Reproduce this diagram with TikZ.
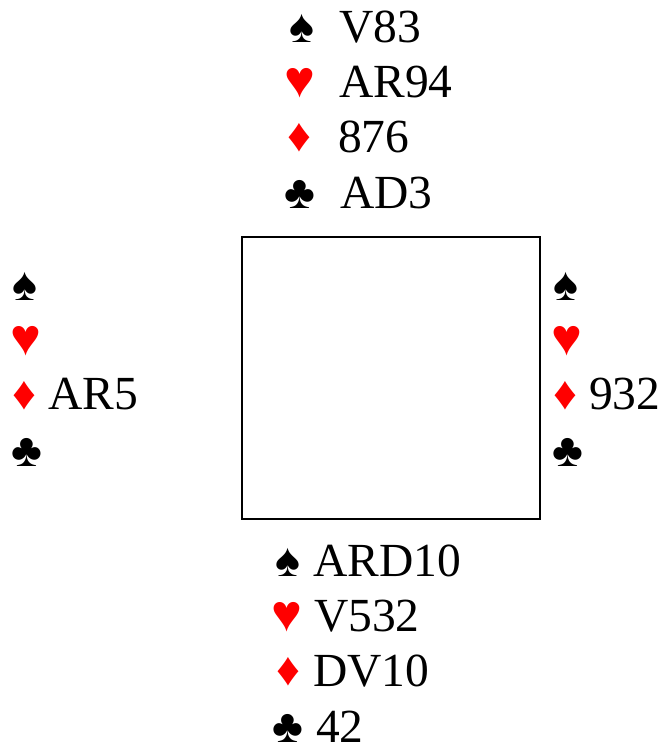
\documentclass[tikz,border=0pt]{standalone}
\usepackage{fontspec}
\setmainfont{Liberation Serif}
\definecolor{cardred}{RGB}{255,0,0}
\newcommand{\spd}{♠}
\newcommand{\hrt}{{\fontsize{52}{52}\selectfont ♥}}
\newcommand{\dmd}{♦}
\newcommand{\clb}{♣}
\tikzset{x=1pt,y=-1pt,
 lbl/.style={font=\fontsize{47.5}{47.5}\selectfont,inner sep=0pt,anchor=base west,text=black},
 blacksuit/.style={font=\fontsize{47}{47}\selectfont,inner sep=0pt,anchor=center,text=black},
 redsuit/.style={font=\fontsize{47}{47}\selectfont,inner sep=0pt,anchor=center,text=cardred},
 table/.style={draw=black,line width=1.4pt,inner sep=0pt,minimum width=298pt,minimum height=282pt}}
\begin{document}
\begin{tikzpicture}
\useasboundingbox (0,0) rectangle (662,745);
\node[table] (tbl) at (391,378) {};
% north
\node[blacksuit] (ns) at (302,28) {\spd};
\node[redsuit] (nh) at (300,83) {\hrt};
\node[redsuit] (nd) at (299,138) {\dmd};
\node[blacksuit] (nc) at (300,194) {\clb};
\node[lbl] (nst) at (339,42) {V83};
\node[lbl] (nht) at (339,97) {AR94};
\node[lbl] (ndt) at (338,152) {876};
\node[lbl] (nct) at (340,208) {AD3};
% west
\node[blacksuit] (ws) at (25,286) {\spd};
\node[redsuit] (wh) at (26,341) {\hrt};
\node[redsuit] (wd) at (24,396) {\dmd};
\node[blacksuit] (wc) at (27,452) {\clb};
\node[lbl] (wdt) at (48,409) {AR5};
% east
\node[blacksuit] (es) at (566,286) {\spd};
\node[redsuit] (eh) at (567,341) {\hrt};
\node[redsuit] (ed) at (565,396) {\dmd};
\node[blacksuit] (ec) at (568,452) {\clb};
\node[lbl] (edt) at (589,409) {932};
% south
\node[blacksuit] (ss) at (288,562) {\spd};
\node[redsuit] (sh) at (287,617) {\hrt};
\node[redsuit] (sd) at (288,672) {\dmd};
\node[blacksuit] (sc) at (288,728) {\clb};
\node[lbl] (sst) at (313,576) {ARD10};
\node[lbl] (sht) at (314,631) {V532};
\node[lbl] (sdt) at (313,686) {DV10};
\node[lbl] (sct) at (316,742) {42};
\end{tikzpicture}
\end{document}
